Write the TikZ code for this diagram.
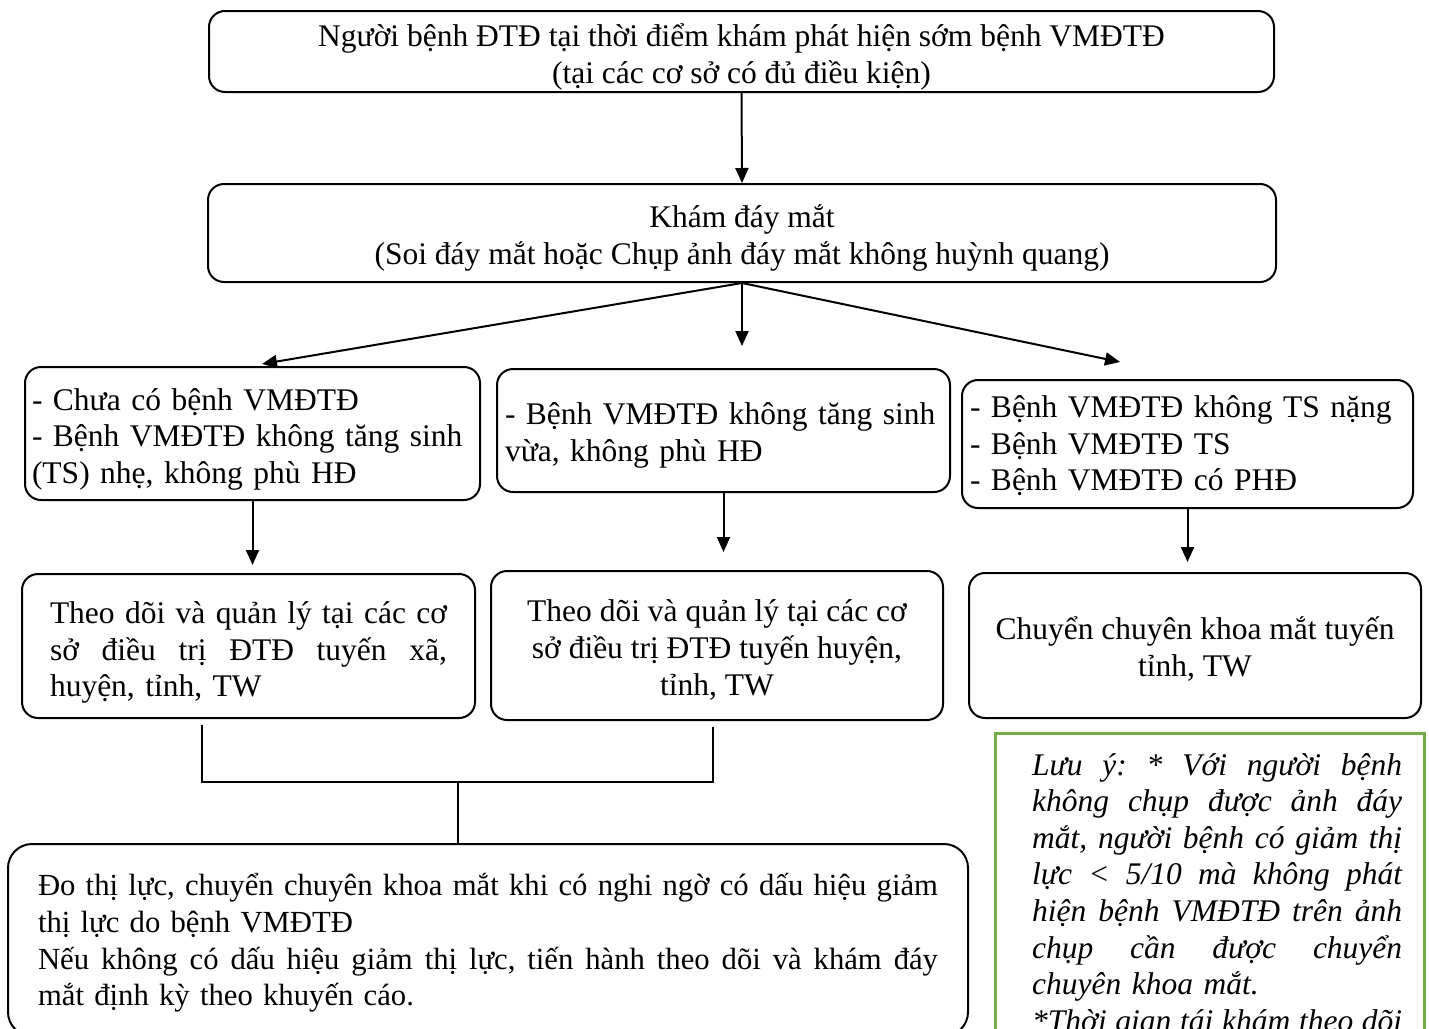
\documentclass[tikz,border=0pt]{standalone}
\usepackage{fontspec}
\setmainfont{Liberation Serif}
\usetikzlibrary{arrows.meta}
\newcommand{\fullline}[1]{{\spaceskip=0pt\xspaceskip=0pt\frenchspacing\makebox[\hsize][s]{#1}}}

\begin{document}
\begin{tikzpicture}[x=1pt,y=-1pt,
	font=\fontsize{31.5}{36.6}\selectfont,
	box/.style={draw,line width=2pt,rounded corners=16pt,inner sep=0pt},
	arr/.style={line width=2pt,-{Triangle[length=15pt,width=13pt]}},
	link/.style={line width=2pt}]
\useasboundingbox (0,0) rectangle (1429,1028);
\path
	(741.5,51.5) node[box,minimum width=1065pt,minimum height=81pt,align=center,text height=70pt] (detect)
		{Người bệnh ĐTĐ tại thời điểm khám phát hiện sớm bệnh VMĐTĐ\\(tại các cơ sở có đủ điều kiện)}
	(742,233) node[box,minimum width=1068pt,minimum height=98pt,align=center,text height=69pt] (fundus)
		{Khám đáy mắt\\(Soi đáy mắt hoặc Chụp ảnh đáy mắt không huỳnh quang)}
	(252.5,433.5) node[box,minimum height=133pt,inner xsep=7pt,text width=441pt,align=left,text height=33pt] (mild)
		{- Chưa có bệnh VMĐTĐ\\- Bệnh VMĐTĐ không tăng sinh\\(TS) nhẹ, không phù HĐ}
	(723.5,430.5) node[box,minimum height=123pt,inner xsep=8pt,text width=437pt,align=left,text height=32pt] (moderate)
		{- Bệnh VMĐTĐ không tăng sinh\\vừa, không phù HĐ}
	(1187.5,444) node[box,minimum height=128pt,inner xsep=8pt,text width=435pt,align=left,text height=26pt] (severe)
		{- Bệnh VMĐTĐ không TS nặng\\- Bệnh VMĐTĐ TS\\- Bệnh VMĐTĐ có PHĐ}
	(248.5,646) node[box,minimum width=453pt,minimum height=144pt,text width=397pt,align=left,text height=35pt] (followA)
		{\fullline{Theo dõi và quản lý tại các cơ}\\\fullline{sở điều trị ĐTĐ tuyến xã,}\\huyện, tỉnh, TW}
	(717,645.5) node[box,minimum width=452pt,minimum height=149pt,align=center,text height=104pt] (followB)
		{Theo dõi và quản lý tại các cơ\\sở điều trị ĐTĐ tuyến huyện,\\tỉnh, TW}
	(1195,645.5) node[box,minimum width=452pt,minimum height=145pt,align=center,text height=66pt] (refer)
		{Chuyển chuyên khoa mắt tuyến\\tỉnh, TW}
	(488,940) node[box,rounded corners=24pt,minimum width=960pt,minimum height=192pt,text width=900pt,align=left,
		text height=28pt,font=\fontsize{30.7}{36.6}\selectfont] (vision)
		{\fullline{Đo thị lực, chuyển chuyên khoa mắt khi có nghi ngờ có dấu hiệu giảm}\\thị lực do bệnh VMĐTĐ\\
		\fullline{Nếu không có dấu hiệu giảm thị lực, tiến hành theo dõi và khám đáy}\\mắt định kỳ theo khuyến cáo.};
% note frame, cut at the bottom edge
\definecolor{notegreen}{HTML}{70AD47}
\draw[notegreen,line width=3pt] (995,733) rectangle (1424,1060);
\node[anchor=base west,inner sep=0pt,text width=370pt,align=left,font=\fontsize{31.5}{36.6}\selectfont\itshape] (note) at (1032,775)
	{\fullline{Lưu ý: * Với người bệnh}\\\fullline{không chụp được ảnh đáy}\\\fullline{mắt, người bệnh có giảm thị}\\
	\fullline{lực < 5/10 mà không phát}\\\fullline{hiện bệnh VMĐTĐ trên ảnh}\\\fullline{chụp cần được chuyển}\\
	chuyên khoa mắt.\\\fullline{*Thời gian tái khám theo dõi}};
% arrows
\coordinate (tipA) at (262,364);
\coordinate (tipB) at (742,346);
\coordinate (tipC) at (1120,362);
\draw[arr] (detect.south) -- (fundus.north);
\draw[arr] (fundus.south) -- (tipA);
\draw[arr] (fundus.south) -- (tipB);
\draw[arr] (fundus.south) -- (tipC);
\draw[arr,shorten >=8pt] (mild.south) -- (mild.south |- followA.north);
\draw[arr,shorten >=18pt] (moderate.south) -- (moderate.south |- followB.north);
\draw[arr,shorten >=10pt] (severe.south) -- (severe.south |- refer.north);
% joining bracket
\coordinate (joinL) at (202,782);
\coordinate (joinR) at (713,782);
\coordinate (joinM) at (458,782);
\draw[link] ([yshift=-6pt]joinL |- followA.south) -- (joinL) -- (joinR) -- ([yshift=-6pt]joinR |- followB.south);
\draw[link] (joinM) -- (joinM |- vision.north);
\end{tikzpicture}
\end{document}
